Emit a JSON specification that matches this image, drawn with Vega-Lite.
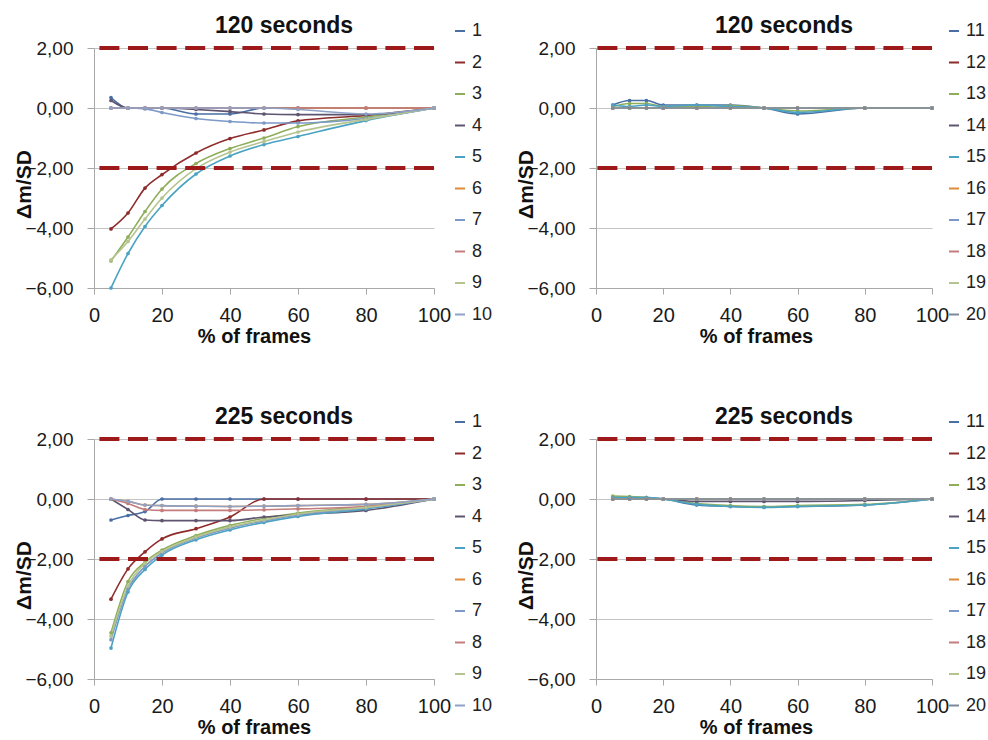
{
  "$schema": "https://vega.github.io/schema/vega-lite/v6.json",
  "background": "white",
  "autosize": {"type": "pad"},
  "padding": {"left": 13, "top": 15, "right": 5, "bottom": 5},
  "config": {
    "font": "Liberation Sans",
    "view": {"stroke": null},
    "title": {"font": "Liberation Sans", "fontSize": 23, "fontWeight": "bold", "color": "#111111", "anchor": "middle", "dx": 20, "offset": -16},
    "axis": {"labelFont": "Liberation Sans", "labelColor": "#1a1a1a", "labelFlush": false, "titleFont": "Liberation Sans", "titleFontWeight": "bold", "titleColor": "#111111", "domainColor": "#a8a8a8", "tickColor": "#a8a8a8", "gridColor": "#c4c4c4", "gridWidth": 1},
    "axisX": {"grid": false, "labelFontSize": 20, "tickSize": 6, "labelPadding": 11, "titleFontSize": 20, "titleX": 160, "titleY": 54, "titleBaseline": "alphabetic", "titleAlign": "center"},
    "axisY": {"grid": true, "labelFontSize": 19, "tickSize": 7, "labelPadding": 14, "titleFontSize": 21, "titleX": -70, "titleY": 136, "titleBaseline": "middle", "titleAlign": "center", "titleAngle": 270, "labelExpr": "replace(format(datum.value, '.2f'), '.', ',')"},
    "legend": {"orient": "none", "legendY": -26, "title": null, "symbolType": "stroke", "symbolSize": 100, "symbolStrokeWidth": 2, "labelFont": "Liberation Sans", "labelFontSize": 18, "labelColor": "#222222", "rowPadding": 13.5, "labelOffset": 3, "padding": 0}
  },
  "datasets": {
    "limits": [{"lim": 2}, {"lim": -2}],
    "t120a": [
      {"s":"1","x":5,"y":0.35},{"s":"1","x":10,"y":0},{"s":"1","x":15,"y":0},{"s":"1","x":20,"y":0},{"s":"1","x":30,"y":-0.2},{"s":"1","x":40,"y":-0.2},{"s":"1","x":50,"y":0},{"s":"1","x":60,"y":0},{"s":"1","x":80,"y":0},{"s":"1","x":100,"y":0},
      {"s":"2","x":5,"y":-4.03},{"s":"2","x":10,"y":-3.5},{"s":"2","x":15,"y":-2.67},{"s":"2","x":20,"y":-2.22},{"s":"2","x":30,"y":-1.5},{"s":"2","x":40,"y":-1.02},{"s":"2","x":50,"y":-0.73},{"s":"2","x":60,"y":-0.43},{"s":"2","x":80,"y":-0.25},{"s":"2","x":100,"y":0},
      {"s":"3","x":5,"y":-5.1},{"s":"3","x":10,"y":-4.3},{"s":"3","x":15,"y":-3.45},{"s":"3","x":20,"y":-2.7},{"s":"3","x":30,"y":-1.85},{"s":"3","x":40,"y":-1.35},{"s":"3","x":50,"y":-1.0},{"s":"3","x":60,"y":-0.62},{"s":"3","x":80,"y":-0.3},{"s":"3","x":100,"y":0},
      {"s":"4","x":5,"y":0.25},{"s":"4","x":10,"y":0},{"s":"4","x":15,"y":0},{"s":"4","x":20,"y":0},{"s":"4","x":30,"y":-0.05},{"s":"4","x":40,"y":-0.12},{"s":"4","x":50,"y":-0.2},{"s":"4","x":60,"y":-0.22},{"s":"4","x":80,"y":-0.22},{"s":"4","x":100,"y":0},
      {"s":"5","x":5,"y":-6.0},{"s":"5","x":10,"y":-4.85},{"s":"5","x":15,"y":-3.95},{"s":"5","x":20,"y":-3.25},{"s":"5","x":30,"y":-2.2},{"s":"5","x":40,"y":-1.6},{"s":"5","x":50,"y":-1.22},{"s":"5","x":60,"y":-0.95},{"s":"5","x":80,"y":-0.42},{"s":"5","x":100,"y":0},
      {"s":"6","x":5,"y":0},{"s":"6","x":10,"y":0},{"s":"6","x":15,"y":0},{"s":"6","x":20,"y":0},{"s":"6","x":30,"y":0},{"s":"6","x":40,"y":0},{"s":"6","x":50,"y":0},{"s":"6","x":60,"y":0},{"s":"6","x":80,"y":0},{"s":"6","x":100,"y":0},
      {"s":"7","x":5,"y":0},{"s":"7","x":10,"y":0},{"s":"7","x":15,"y":-0.03},{"s":"7","x":20,"y":-0.15},{"s":"7","x":30,"y":-0.35},{"s":"7","x":40,"y":-0.45},{"s":"7","x":50,"y":-0.5},{"s":"7","x":60,"y":-0.5},{"s":"7","x":80,"y":-0.35},{"s":"7","x":100,"y":0},
      {"s":"8","x":5,"y":0},{"s":"8","x":10,"y":0},{"s":"8","x":15,"y":0},{"s":"8","x":20,"y":0},{"s":"8","x":30,"y":0},{"s":"8","x":40,"y":0},{"s":"8","x":50,"y":0},{"s":"8","x":60,"y":0},{"s":"8","x":80,"y":0},{"s":"8","x":100,"y":0},
      {"s":"9","x":5,"y":-5.06},{"s":"9","x":10,"y":-4.45},{"s":"9","x":15,"y":-3.7},{"s":"9","x":20,"y":-3.0},{"s":"9","x":30,"y":-2.02},{"s":"9","x":40,"y":-1.47},{"s":"9","x":50,"y":-1.12},{"s":"9","x":60,"y":-0.8},{"s":"9","x":80,"y":-0.38},{"s":"9","x":100,"y":0},
      {"s":"10","x":5,"y":0},{"s":"10","x":10,"y":0},{"s":"10","x":15,"y":0},{"s":"10","x":20,"y":0},{"s":"10","x":30,"y":0},{"s":"10","x":40,"y":0},{"s":"10","x":50,"y":0},{"s":"10","x":60,"y":-0.05},{"s":"10","x":80,"y":-0.2},{"s":"10","x":100,"y":0}
    ],
    "t120b": [
      {"s":"11","x":5,"y":0.1},{"s":"11","x":10,"y":0.25},{"s":"11","x":15,"y":0.25},{"s":"11","x":20,"y":0.1},{"s":"11","x":30,"y":0.1},{"s":"11","x":40,"y":0.1},{"s":"11","x":50,"y":0},{"s":"11","x":60,"y":-0.2},{"s":"11","x":80,"y":0},{"s":"11","x":100,"y":0},
      {"s":"12","x":5,"y":0},{"s":"12","x":10,"y":0},{"s":"12","x":15,"y":0},{"s":"12","x":20,"y":0},{"s":"12","x":30,"y":0},{"s":"12","x":40,"y":0},{"s":"12","x":50,"y":0},{"s":"12","x":60,"y":0},{"s":"12","x":80,"y":0},{"s":"12","x":100,"y":0},
      {"s":"13","x":5,"y":0.05},{"s":"13","x":10,"y":0.15},{"s":"13","x":15,"y":0.15},{"s":"13","x":20,"y":0.05},{"s":"13","x":30,"y":0.05},{"s":"13","x":40,"y":0.08},{"s":"13","x":50,"y":0},{"s":"13","x":60,"y":-0.1},{"s":"13","x":80,"y":0},{"s":"13","x":100,"y":0},
      {"s":"14","x":5,"y":0},{"s":"14","x":10,"y":0},{"s":"14","x":15,"y":0},{"s":"14","x":20,"y":0},{"s":"14","x":30,"y":0},{"s":"14","x":40,"y":0},{"s":"14","x":50,"y":0},{"s":"14","x":60,"y":0},{"s":"14","x":80,"y":0},{"s":"14","x":100,"y":0},
      {"s":"15","x":5,"y":0.1},{"s":"15","x":10,"y":0.05},{"s":"15","x":15,"y":0.1},{"s":"15","x":20,"y":0.05},{"s":"15","x":30,"y":0.1},{"s":"15","x":40,"y":0.05},{"s":"15","x":50,"y":0},{"s":"15","x":60,"y":-0.15},{"s":"15","x":80,"y":0},{"s":"15","x":100,"y":0},
      {"s":"16","x":5,"y":0},{"s":"16","x":10,"y":0},{"s":"16","x":15,"y":0},{"s":"16","x":20,"y":0},{"s":"16","x":30,"y":0},{"s":"16","x":40,"y":0},{"s":"16","x":50,"y":0},{"s":"16","x":60,"y":0},{"s":"16","x":80,"y":0},{"s":"16","x":100,"y":0},
      {"s":"17","x":5,"y":0},{"s":"17","x":10,"y":0},{"s":"17","x":15,"y":0},{"s":"17","x":20,"y":0},{"s":"17","x":30,"y":0},{"s":"17","x":40,"y":0},{"s":"17","x":50,"y":0},{"s":"17","x":60,"y":0},{"s":"17","x":80,"y":0},{"s":"17","x":100,"y":0},
      {"s":"18","x":5,"y":0},{"s":"18","x":10,"y":0},{"s":"18","x":15,"y":0},{"s":"18","x":20,"y":0},{"s":"18","x":30,"y":0},{"s":"18","x":40,"y":0},{"s":"18","x":50,"y":0},{"s":"18","x":60,"y":0},{"s":"18","x":80,"y":0},{"s":"18","x":100,"y":0},
      {"s":"19","x":5,"y":0},{"s":"19","x":10,"y":0},{"s":"19","x":15,"y":0},{"s":"19","x":20,"y":0},{"s":"19","x":30,"y":0},{"s":"19","x":40,"y":0},{"s":"19","x":50,"y":0},{"s":"19","x":60,"y":0},{"s":"19","x":80,"y":0},{"s":"19","x":100,"y":0},
      {"s":"20","x":5,"y":0},{"s":"20","x":10,"y":0},{"s":"20","x":15,"y":0},{"s":"20","x":20,"y":0},{"s":"20","x":30,"y":0},{"s":"20","x":40,"y":0},{"s":"20","x":50,"y":0},{"s":"20","x":60,"y":0},{"s":"20","x":80,"y":0},{"s":"20","x":100,"y":0}
    ],
    "t225a": [
      {"s":"1","x":5,"y":-0.7},{"s":"1","x":10,"y":-0.55},{"s":"1","x":15,"y":-0.42},{"s":"1","x":20,"y":0},{"s":"1","x":30,"y":0},{"s":"1","x":40,"y":0},{"s":"1","x":50,"y":0},{"s":"1","x":60,"y":0},{"s":"1","x":80,"y":0},{"s":"1","x":100,"y":0},
      {"s":"2","x":5,"y":-3.34},{"s":"2","x":10,"y":-2.33},{"s":"2","x":15,"y":-1.76},{"s":"2","x":20,"y":-1.33},{"s":"2","x":30,"y":-0.99},{"s":"2","x":40,"y":-0.6},{"s":"2","x":50,"y":0},{"s":"2","x":60,"y":0},{"s":"2","x":80,"y":0},{"s":"2","x":100,"y":0},
      {"s":"3","x":5,"y":-4.46},{"s":"3","x":10,"y":-2.75},{"s":"3","x":15,"y":-2.1},{"s":"3","x":20,"y":-1.7},{"s":"3","x":30,"y":-1.22},{"s":"3","x":40,"y":-0.88},{"s":"3","x":50,"y":-0.64},{"s":"3","x":60,"y":-0.47},{"s":"3","x":80,"y":-0.25},{"s":"3","x":100,"y":0},
      {"s":"4","x":5,"y":0},{"s":"4","x":10,"y":-0.35},{"s":"4","x":15,"y":-0.7},{"s":"4","x":20,"y":-0.72},{"s":"4","x":30,"y":-0.72},{"s":"4","x":40,"y":-0.72},{"s":"4","x":50,"y":-0.6},{"s":"4","x":60,"y":-0.52},{"s":"4","x":80,"y":-0.38},{"s":"4","x":100,"y":0},
      {"s":"5","x":5,"y":-4.97},{"s":"5","x":10,"y":-3.1},{"s":"5","x":15,"y":-2.35},{"s":"5","x":20,"y":-1.87},{"s":"5","x":30,"y":-1.36},{"s":"5","x":40,"y":-1.03},{"s":"5","x":50,"y":-0.78},{"s":"5","x":60,"y":-0.58},{"s":"5","x":80,"y":-0.33},{"s":"5","x":100,"y":0},
      {"s":"6","x":5,"y":0},{"s":"6","x":10,"y":-0.08},{"s":"6","x":15,"y":-0.2},{"s":"6","x":20,"y":-0.22},{"s":"6","x":30,"y":-0.24},{"s":"6","x":40,"y":-0.25},{"s":"6","x":50,"y":-0.24},{"s":"6","x":60,"y":-0.22},{"s":"6","x":80,"y":-0.18},{"s":"6","x":100,"y":0},
      {"s":"7","x":5,"y":-4.69},{"s":"7","x":10,"y":-3.0},{"s":"7","x":15,"y":-2.25},{"s":"7","x":20,"y":-1.8},{"s":"7","x":30,"y":-1.3},{"s":"7","x":40,"y":-0.97},{"s":"7","x":50,"y":-0.73},{"s":"7","x":60,"y":-0.53},{"s":"7","x":80,"y":-0.3},{"s":"7","x":100,"y":0},
      {"s":"8","x":5,"y":0},{"s":"8","x":10,"y":-0.15},{"s":"8","x":15,"y":-0.35},{"s":"8","x":20,"y":-0.38},{"s":"8","x":30,"y":-0.38},{"s":"8","x":40,"y":-0.38},{"s":"8","x":50,"y":-0.36},{"s":"8","x":60,"y":-0.33},{"s":"8","x":80,"y":-0.25},{"s":"8","x":100,"y":0},
      {"s":"9","x":5,"y":-4.57},{"s":"9","x":10,"y":-2.9},{"s":"9","x":15,"y":-2.15},{"s":"9","x":20,"y":-1.75},{"s":"9","x":30,"y":-1.27},{"s":"9","x":40,"y":-0.93},{"s":"9","x":50,"y":-0.7},{"s":"9","x":60,"y":-0.5},{"s":"9","x":80,"y":-0.28},{"s":"9","x":100,"y":0},
      {"s":"10","x":5,"y":0},{"s":"10","x":10,"y":-0.08},{"s":"10","x":15,"y":-0.2},{"s":"10","x":20,"y":-0.22},{"s":"10","x":30,"y":-0.24},{"s":"10","x":40,"y":-0.25},{"s":"10","x":50,"y":-0.24},{"s":"10","x":60,"y":-0.22},{"s":"10","x":80,"y":-0.18},{"s":"10","x":100,"y":0}
    ],
    "t225b": [
      {"s":"11","x":5,"y":0.05},{"s":"11","x":10,"y":0.05},{"s":"11","x":15,"y":0.05},{"s":"11","x":20,"y":0},{"s":"11","x":30,"y":-0.2},{"s":"11","x":40,"y":-0.25},{"s":"11","x":50,"y":-0.27},{"s":"11","x":60,"y":-0.25},{"s":"11","x":80,"y":-0.2},{"s":"11","x":100,"y":0},
      {"s":"12","x":5,"y":0},{"s":"12","x":10,"y":0},{"s":"12","x":15,"y":0},{"s":"12","x":20,"y":0},{"s":"12","x":30,"y":0},{"s":"12","x":40,"y":0},{"s":"12","x":50,"y":0},{"s":"12","x":60,"y":0},{"s":"12","x":80,"y":0},{"s":"12","x":100,"y":0},
      {"s":"13","x":5,"y":0.1},{"s":"13","x":10,"y":0.08},{"s":"13","x":15,"y":0.05},{"s":"13","x":20,"y":0},{"s":"13","x":30,"y":-0.15},{"s":"13","x":40,"y":-0.22},{"s":"13","x":50,"y":-0.25},{"s":"13","x":60,"y":-0.22},{"s":"13","x":80,"y":-0.18},{"s":"13","x":100,"y":0},
      {"s":"14","x":5,"y":0},{"s":"14","x":10,"y":0},{"s":"14","x":15,"y":0},{"s":"14","x":20,"y":0},{"s":"14","x":30,"y":-0.08},{"s":"14","x":40,"y":-0.08},{"s":"14","x":50,"y":-0.08},{"s":"14","x":60,"y":-0.08},{"s":"14","x":80,"y":-0.05},{"s":"14","x":100,"y":0},
      {"s":"15","x":5,"y":0.05},{"s":"15","x":10,"y":0.05},{"s":"15","x":15,"y":0.05},{"s":"15","x":20,"y":0},{"s":"15","x":30,"y":-0.18},{"s":"15","x":40,"y":-0.25},{"s":"15","x":50,"y":-0.28},{"s":"15","x":60,"y":-0.25},{"s":"15","x":80,"y":-0.2},{"s":"15","x":100,"y":0},
      {"s":"16","x":5,"y":0},{"s":"16","x":10,"y":0},{"s":"16","x":15,"y":0},{"s":"16","x":20,"y":0},{"s":"16","x":30,"y":0},{"s":"16","x":40,"y":0},{"s":"16","x":50,"y":0},{"s":"16","x":60,"y":0},{"s":"16","x":80,"y":0},{"s":"16","x":100,"y":0},
      {"s":"17","x":5,"y":0},{"s":"17","x":10,"y":0},{"s":"17","x":15,"y":0},{"s":"17","x":20,"y":0},{"s":"17","x":30,"y":0},{"s":"17","x":40,"y":0},{"s":"17","x":50,"y":0},{"s":"17","x":60,"y":0},{"s":"17","x":80,"y":0},{"s":"17","x":100,"y":0},
      {"s":"18","x":5,"y":0},{"s":"18","x":10,"y":0},{"s":"18","x":15,"y":0},{"s":"18","x":20,"y":0},{"s":"18","x":30,"y":0},{"s":"18","x":40,"y":0},{"s":"18","x":50,"y":0},{"s":"18","x":60,"y":0},{"s":"18","x":80,"y":0},{"s":"18","x":100,"y":0},
      {"s":"19","x":5,"y":0},{"s":"19","x":10,"y":0},{"s":"19","x":15,"y":0},{"s":"19","x":20,"y":0},{"s":"19","x":30,"y":0},{"s":"19","x":40,"y":0},{"s":"19","x":50,"y":0},{"s":"19","x":60,"y":0},{"s":"19","x":80,"y":0},{"s":"19","x":100,"y":0},
      {"s":"20","x":5,"y":0},{"s":"20","x":10,"y":0},{"s":"20","x":15,"y":0},{"s":"20","x":20,"y":0},{"s":"20","x":30,"y":0},{"s":"20","x":40,"y":0},{"s":"20","x":50,"y":0},{"s":"20","x":60,"y":0},{"s":"20","x":80,"y":0},{"s":"20","x":100,"y":0}
    ]
  },
  "columns": 2,
  "bounds": "flush",
  "spacing": {"row": 151, "column": 162},
  "resolve": {"scale": {"color": "independent"}, "legend": {"color": "independent"}},
  "concat": [
    {
      "width": 340, "height": 240,
      "title": "120 seconds",
      "layer": [
        {"data": {"name": "t120a"}, "mark": {"type": "line", "interpolate": "monotone", "strokeWidth": 1.6},
         "encoding": {
           "x": {"field": "x", "type": "quantitative", "scale": {"domain": [0, 100]}, "axis": {"values": [0, 20, 40, 60, 80, 100], "title": "% of frames"}},
           "y": {"field": "y", "type": "quantitative", "scale": {"domain": [-6, 2]}, "axis": {"values": [-6, -4, -2, 0, 2], "title": "Δm/SD"}},
           "color": {"field": "s", "type": "nominal", "scale": {"domain": ["1","2","3","4","5","6","7","8","9","10"], "range": ["#4a6fa5","#8e2b2b","#8fae5a","#5e5470","#4ba3c3","#e08a3c","#7c99c7","#c47c7c","#b5c48f","#8ea2c7"]}, "legend": {"legendX": 357}}}},
        {"data": {"name": "t120a"}, "mark": {"type": "point", "filled": true, "size": 14, "opacity": 1},
         "encoding": {"x": {"field": "x", "type": "quantitative"}, "y": {"field": "y", "type": "quantitative"}, "color": {"field": "s", "type": "nominal"}}},
        {"data": {"name": "limits"}, "mark": {"type": "rule", "color": "#9e1a1a", "strokeWidth": 4, "strokeDash": [20, 8.6]},
         "encoding": {"y": {"field": "lim", "type": "quantitative"}}}
      ]
    },
    {
      "width": 336, "height": 240,
      "title": "120 seconds",
      "layer": [
        {"data": {"name": "t120b"}, "mark": {"type": "line", "interpolate": "monotone", "strokeWidth": 1.6},
         "encoding": {
           "x": {"field": "x", "type": "quantitative", "scale": {"domain": [0, 100]}, "axis": {"values": [0, 20, 40, 60, 80, 100], "title": "% of frames"}},
           "y": {"field": "y", "type": "quantitative", "scale": {"domain": [-6, 2]}, "axis": {"values": [-6, -4, -2, 0, 2], "title": "Δm/SD"}},
           "color": {"field": "s", "type": "nominal", "scale": {"domain": ["11","12","13","14","15","16","17","18","19","20"], "range": ["#4a6fa5","#8e2b2b","#8fae5a","#5e5470","#4ba3c3","#e08a3c","#7c99c7","#c47c7c","#b5c48f","#7d8898"]}, "legend": {"legendX": 349}}}},
        {"data": {"name": "t120b"}, "mark": {"type": "point", "filled": true, "size": 14, "opacity": 1},
         "encoding": {"x": {"field": "x", "type": "quantitative"}, "y": {"field": "y", "type": "quantitative"}, "color": {"field": "s", "type": "nominal"}}},
        {"data": {"name": "limits"}, "mark": {"type": "rule", "color": "#9e1a1a", "strokeWidth": 4, "strokeDash": [20, 8.6]},
         "encoding": {"y": {"field": "lim", "type": "quantitative"}}}
      ]
    },
    {
      "width": 340, "height": 240,
      "title": "225 seconds",
      "layer": [
        {"data": {"name": "t225a"}, "mark": {"type": "line", "interpolate": "monotone", "strokeWidth": 1.6},
         "encoding": {
           "x": {"field": "x", "type": "quantitative", "scale": {"domain": [0, 100]}, "axis": {"values": [0, 20, 40, 60, 80, 100], "title": "% of frames"}},
           "y": {"field": "y", "type": "quantitative", "scale": {"domain": [-6, 2]}, "axis": {"values": [-6, -4, -2, 0, 2], "title": "Δm/SD"}},
           "color": {"field": "s", "type": "nominal", "scale": {"domain": ["1","2","3","4","5","6","7","8","9","10"], "range": ["#4a6fa5","#8e2b2b","#8fae5a","#5e5470","#4ba3c3","#e08a3c","#7c99c7","#c47c7c","#b5c48f","#8ea2c7"]}, "legend": {"legendX": 357}}}},
        {"data": {"name": "t225a"}, "mark": {"type": "point", "filled": true, "size": 14, "opacity": 1},
         "encoding": {"x": {"field": "x", "type": "quantitative"}, "y": {"field": "y", "type": "quantitative"}, "color": {"field": "s", "type": "nominal"}}},
        {"data": {"name": "limits"}, "mark": {"type": "rule", "color": "#9e1a1a", "strokeWidth": 4, "strokeDash": [20, 8.6]},
         "encoding": {"y": {"field": "lim", "type": "quantitative"}}}
      ]
    },
    {
      "width": 336, "height": 240,
      "title": "225 seconds",
      "layer": [
        {"data": {"name": "t225b"}, "mark": {"type": "line", "interpolate": "monotone", "strokeWidth": 1.6},
         "encoding": {
           "x": {"field": "x", "type": "quantitative", "scale": {"domain": [0, 100]}, "axis": {"values": [0, 20, 40, 60, 80, 100], "title": "% of frames"}},
           "y": {"field": "y", "type": "quantitative", "scale": {"domain": [-6, 2]}, "axis": {"values": [-6, -4, -2, 0, 2], "title": "Δm/SD"}},
           "color": {"field": "s", "type": "nominal", "scale": {"domain": ["11","12","13","14","15","16","17","18","19","20"], "range": ["#4a6fa5","#8e2b2b","#8fae5a","#5e5470","#4ba3c3","#e08a3c","#7c99c7","#c47c7c","#b5c48f","#7d8898"]}, "legend": {"legendX": 349}}}},
        {"data": {"name": "t225b"}, "mark": {"type": "point", "filled": true, "size": 14, "opacity": 1},
         "encoding": {"x": {"field": "x", "type": "quantitative"}, "y": {"field": "y", "type": "quantitative"}, "color": {"field": "s", "type": "nominal"}}},
        {"data": {"name": "limits"}, "mark": {"type": "rule", "color": "#9e1a1a", "strokeWidth": 4, "strokeDash": [20, 8.6]},
         "encoding": {"y": {"field": "lim", "type": "quantitative"}}}
      ]
    }
  ]
}
